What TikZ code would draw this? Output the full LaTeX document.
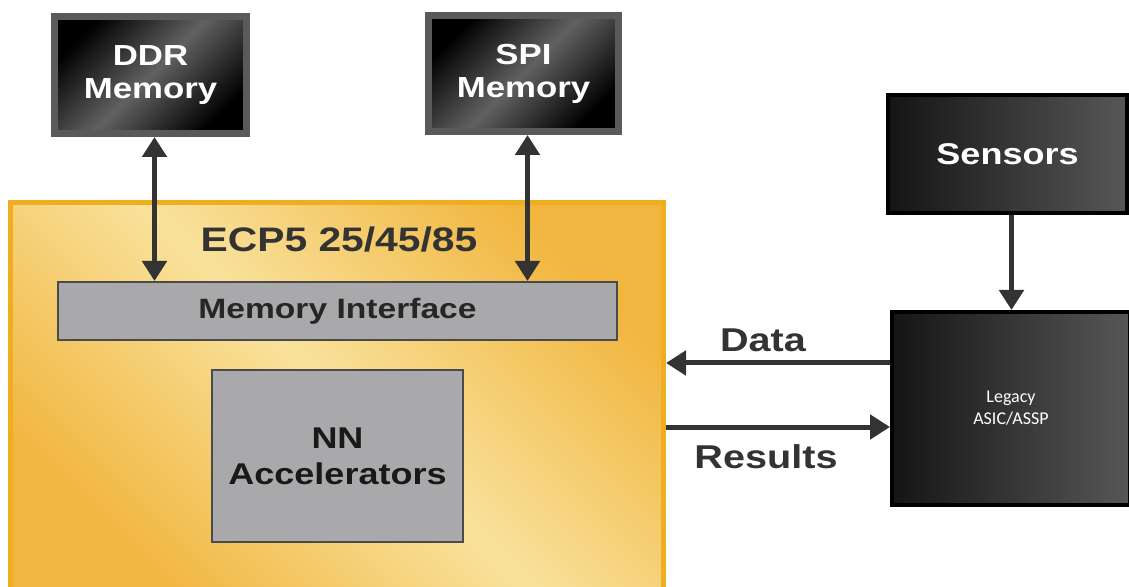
\documentclass[tikz,border=0pt]{standalone}
\usepackage{fontspec}
\newfontfamily\diagfont[FakeStretch=1.2]{Liberation Sans}
\newfontfamily\legacyfont{Carlito}
\usepackage{tikz}
\usetikzlibrary{arrows.meta}
\usepackage{xcolor}
\definecolor{ecp_edge}{HTML}{EFAE22}
\definecolor{ecp_dark}{HTML}{F1B640}
\definecolor{ecp_light}{HTML}{F9E29C}
\definecolor{mem_edge}{HTML}{5A5A5A}
\definecolor{block_fill}{HTML}{A9A9AB}
\definecolor{block_edge}{HTML}{4A4A4A}
\colorlet{link_gray}{black!80}
\colorlet{label_text}{black!80}

\begin{document}
\begin{tikzpicture}[
    x=0.5pt, y=-0.5pt,
    link/.style={draw=link_gray, line width=2.5pt, -{Triangle[length=10pt, width=12pt]}},
    bilink/.style={draw=link_gray, line width=2.5pt, {Triangle[length=10pt, width=12pt]}-{Triangle[length=10pt, width=12pt]}},
    memchip/.style={draw=mem_edge, line width=3.5pt, inner sep=0pt,
      top color=black, bottom color=black, middle color=black!62, shading angle=45,
      text=white, align=center, font=\diagfont\bfseries\fontsize{14.5}{16.5}\selectfont},
    extchip/.style={draw=black, line width=2pt, inner sep=0pt,
      left color=black!92, right color=black!66,
      text=white, align=center},
    fpga/.style={draw=ecp_edge, line width=2.5pt, inner sep=0pt,
      top color=ecp_dark, bottom color=ecp_dark, middle color=ecp_light, shading angle=-45},
    block/.style={draw=block_edge, fill=block_fill, line width=1pt, inner sep=0pt, align=center},
    flow-label/.style={text=label_text, font=\diagfont\bfseries\fontsize{16.5}{18}\selectfont},
  ]
  \useasboundingbox (0,0) rectangle (1129,587);

  %%%%%%%%%% FPGA %%%%%%%%%%
  \node[fpga, minimum width=326.5pt, minimum height=193.5pt] (ecp) at (337,396) {};
  \node[text=label_text, font=\diagfont\bfseries\fontsize{17}{19}\selectfont] (title) at (339,240) {ECP5 25/45/85};
  \node[block, minimum width=279.5pt, minimum height=29pt, text=black!85,
    font=\diagfont\bfseries\fontsize{14}{16}\selectfont] (memif) at (337.5,311) {Memory Interface};
  \node[block, minimum width=125.5pt, minimum height=86pt, text=black!90,
    font=\diagfont\bfseries\fontsize{15}{18}\selectfont] (nn) at (337.5,456) {NN\\Accelerators};

  %%%%%%%%%% Memories %%%%%%%%%%
  \node[memchip, minimum width=96pt, minimum height=58.5pt] (ddr) at (150.5,75) {DDR\\Memory};
  \node[memchip, minimum width=95pt, minimum height=58pt] (spi) at (523.5,73.5) {SPI\\Memory};

  %%%%%%%%%% External chips %%%%%%%%%%
  \node[extchip, minimum width=119.5pt, minimum height=59pt,
    font=\diagfont\bfseries\fontsize{15}{17}\selectfont] (sensors) at (1007.5,154) {Sensors};
  \node[extchip, minimum width=119pt, minimum height=96.5pt,
    font=\legacyfont\fontsize{9}{11}\selectfont] (legacy) at (1011,408.5) {Legacy\\ASIC/ASSP};

  %%%%%%%%%% Connectors %%%%%%%%%%
  \draw[bilink] ([xshift=2pt]ddr.south) -- ([xshift=2pt]ddr.south |- memif.north);
  \draw[bilink] ([xshift=2pt]spi.south) -- ([xshift=2pt]spi.south |- memif.north);
  \draw[link] ([xshift=2pt]sensors.south) -- ([xshift=2pt]sensors.south |- legacy.north);

  \coordinate (data_in) at ([yshift=22.75pt]legacy.west);
  \coordinate (result_out) at ([yshift=-9.25pt]legacy.west);
  \draw[link] (data_in) -- (ecp.east |- data_in);
  \draw[link] (ecp.east |- result_out) -- (result_out);
  \node[flow-label] (data_label) at (763,340) {Data};
  \node[flow-label] (result_label) at (766,457) {Results};

\end{tikzpicture}
\end{document}
